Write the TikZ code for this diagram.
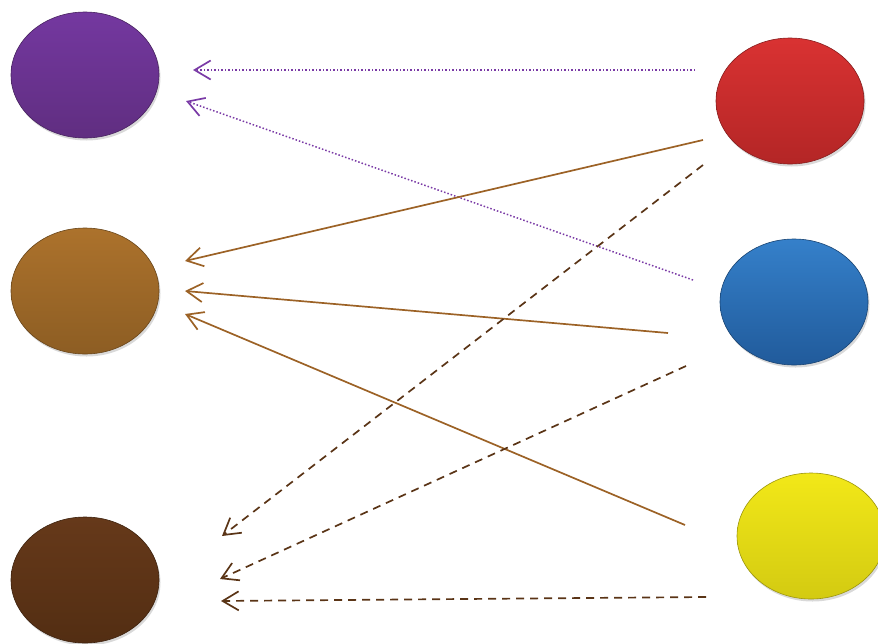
\documentclass[tikz,border=0pt]{standalone}
\usetikzlibrary{shapes.geometric,arrows.meta,shadows}
\definecolor{cpurple}{HTML}{6D3492}
\definecolor{cgold}{HTML}{A06A28}
\definecolor{cdark}{HTML}{5E3415}
\definecolor{cred}{HTML}{CC2B2B}
\definecolor{cblue}{HTML}{2567B0}
\definecolor{cyellow}{HTML}{F0E614}
\definecolor{lcpurple}{HTML}{7438A0}
\definecolor{lcgold}{HTML}{AC722C}
\definecolor{lcdark}{HTML}{66391A}
\definecolor{lcred}{HTML}{D93232}
\definecolor{lcblue}{HTML}{3580CA}
\definecolor{lcyellow}{HTML}{F2E818}
\definecolor{linepurple}{HTML}{7A3AA6}
\definecolor{linegold}{HTML}{9C6226}
\definecolor{linedark}{HTML}{5A3416}
\tikzset{
  blob/.style={ellipse, minimum width=148pt, minimum height=126pt, inner sep=0pt,
    draw=#1!65!black, line width=0.6pt, top color=l#1, middle color=#1, bottom color=#1!88!black,
    drop shadow={shadow xshift=1.5pt, shadow yshift=-2.5pt, opacity=0.3}},
  tip/.style={-{Straight Barb[length=16pt,width=19pt,line width=1.7pt]}},
  purpline/.style={tip, draw=linepurple, line width=1.5pt, dotted},
  goldline/.style={tip, draw=linegold, line width=1.7pt},
  darkline/.style={tip, draw=linedark, line width=1.7pt, dash pattern=on 8pt off 6pt},
}
\begin{document}
\begin{tikzpicture}[x=1pt,y=-1pt]
\useasboundingbox (0,0) rectangle (878,643);
\node[blob=cpurple] (P) at (85,75) {};
\node[blob=cgold] (G) at (85,291) {};
\node[blob=cdark] (D) at (85,580) {};
\node[blob=cred] (R) at (790,101) {};
\node[blob=cblue] (B) at (794,302) {};
\node[blob=cyellow] (Y) at (811,536) {};
% free ends
\coordinate (s1) at (695,70);   \coordinate (e1) at (193,70);
\coordinate (s2) at (693,280);  \coordinate (e2) at (186,101);
\coordinate (s3) at (703,140);  \coordinate (e3) at (185,261);
\coordinate (s4) at (668,333);  \coordinate (e4) at (185,291);
\coordinate (s5) at (685,525);  \coordinate (e5) at (185,314);
\coordinate (s6) at (703,165);  \coordinate (e6) at (222,536);
\coordinate (s7) at (686,366);  \coordinate (e7) at (220,579);
\coordinate (s8) at (706,597);  \coordinate (e8) at (221,601);
\draw[purpline] (s1) -- (e1);
\draw[purpline] (s2) -- (e2);
\draw[goldline] (s3) -- (e3);
\draw[goldline] (s4) -- (e4);
\draw[goldline] (s5) -- (e5);
\draw[darkline] (s6) -- (e6);
\draw[darkline] (s7) -- (e7);
\draw[darkline] (s8) -- (e8);
\end{tikzpicture}
\end{document}
